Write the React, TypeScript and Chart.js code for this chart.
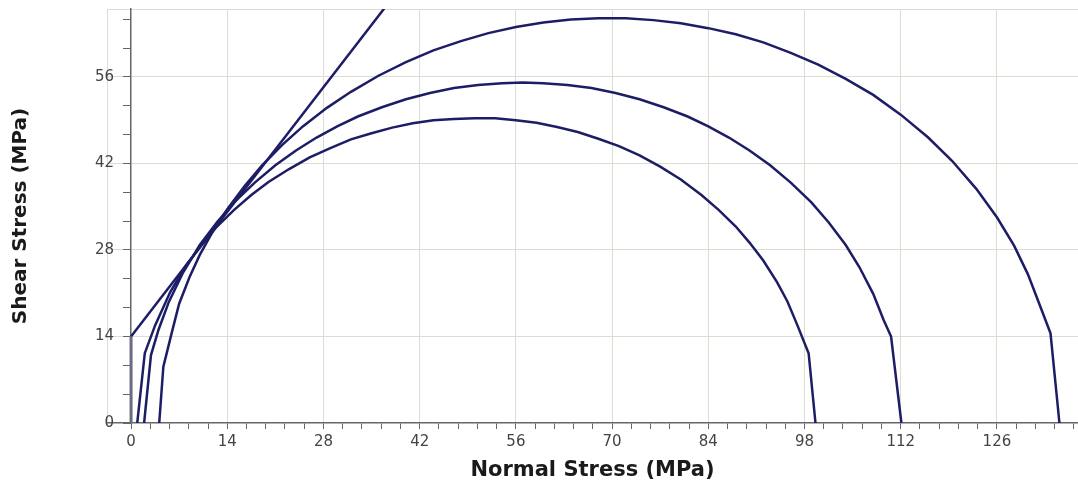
import { useEffect, useRef } from "react";
import { Chart, registerables } from "chart.js";
Chart.register(...registerables);

// ---- axis tick labels ----
const xTickLabels = ["0", "14", "28", "42", "56", "70", "84", "98", "112", "126"];
const yTickLabels = ["0", "14", "28", "42", "56"];
const xMinorDivisions = 5;
const yMinorDivisions = 3;
const xMin = -3.5;
const xMax = 137.8;
const yMin = 0;
const yMax = 67;

// ---- Mohr circle 1 (smallest) ----
const sigmaCircle1 = [0.9, 2.0, 3.5, 5.7, 8, 10, 12.5, 15, 17.5, 20, 23, 26, 29, 32, 35, 38, 41, 44, 47, 50, 53, 56, 59, 62, 65, 68, 71, 74, 77, 80, 83, 85.5, 88, 90, 92, 94, 95.5, 96.9, 98.6, 99.6];
const tauCircle1 = [0, 11.3, 15.8, 21.2, 25.5, 28.4, 31.8, 34.5, 36.9, 39.0, 41.1, 43.0, 44.5, 45.9, 46.9, 47.8, 48.5, 49.0, 49.2, 49.3, 49.3, 49.0, 48.6, 47.9, 47.1, 46.0, 44.8, 43.3, 41.5, 39.4, 36.9, 34.5, 31.8, 29.2, 26.3, 22.8, 19.7, 16.0, 11.3, 0];

// ---- Mohr circle 2 (middle) ----
const sigmaCircle2 = [1.9, 2.9, 4, 5.5, 7.5, 10, 12.5, 15, 18, 21, 24, 27, 30, 33, 36.5, 40, 43.5, 47, 50.5, 54, 57, 60, 63.5, 67, 70.5, 74, 77.5, 81, 84, 87, 90, 93, 96, 99, 101.5, 104, 106, 108, 109.5, 110.6, 112.1];
const tauCircle2 = [0, 11.0, 15.1, 19.6, 24.2, 28.8, 32.5, 35.7, 38.9, 41.7, 44.1, 46.2, 48.0, 49.6, 51.1, 52.4, 53.4, 54.2, 54.7, 55.0, 55.1, 55.0, 54.7, 54.2, 53.4, 52.4, 51.1, 49.6, 48.0, 46.2, 44.1, 41.7, 38.9, 35.7, 32.5, 28.8, 25.2, 20.9, 16.7, 14.0, 0];

// ---- Mohr circle 3 (largest) ----
const sigmaCircle3 = [4.1, 4.7, 5.9, 7, 8.5, 10, 12, 14, 16.5, 19, 22, 25, 28.5, 32, 36, 40, 44, 48, 52, 56, 60, 64, 68, 72, 76, 80, 84, 88, 92, 96, 100, 104, 108, 112, 116, 119.5, 123, 126, 128.5, 130.5, 132.3, 133.8, 135.1];
const tauCircle3 = [0, 9.1, 14.5, 19.3, 23.6, 27.2, 31.2, 34.6, 38.3, 41.6, 45.0, 48.0, 51.0, 53.6, 56.2, 58.4, 60.3, 61.8, 63.1, 64.1, 64.8, 65.3, 65.5, 65.5, 65.2, 64.7, 63.9, 62.9, 61.6, 59.9, 58.0, 55.7, 53.1, 49.9, 46.2, 42.4, 37.9, 33.3, 28.7, 24.1, 18.9, 14.5, 0];

// ---- failure envelope (cohesion stem + straight envelope) ----
const sigmaStem = [0, 0];
const tauStem = [0, 14];
const sigmaEnvelope = [0, 37.2];
const tauEnvelope = [14, 67.6];

const LINE_COLOR = "#1d1d66";
const STEM_COLOR = "#6a6a80";
const GRID_COLOR = "#dcdcd2";
const AXIS_COLOR = "#666666";
const TICK_TEXT = "#444444";
const FONT = "'DejaVu Sans', Verdana, sans-serif";
const Y_LABEL_GAP = "\u2007\u2002";

function zip(xs: number[], ys: number[]) {
  return xs.map((x, i) => ({ x, y: ys[i] }));
}

function tickValues(labels: string[], divisions: number, max: number) {
  const majors = labels.map(Number);
  const step = (majors[1] - majors[0]) / divisions;
  const vals: number[] = [];
  for (let i = 0; ; i++) {
    const v = majors[0] + i * step;
    if (v > max + 1e-9) break;
    vals.push(v);
  }
  return vals;
}

function labelFor(labels: string[], v: number) {
  const hit = labels.find((l) => Math.abs(Number(l) - v) < 1e-6);
  return hit === undefined ? "" : hit;
}

export default function App() {
  const ref = useRef<HTMLCanvasElement>(null);

  useEffect(() => {
    document.body.style.margin = "0";
    const canvas = ref.current!;
    const xTicks = [xMin, ...tickValues(xTickLabels, xMinorDivisions, xMax)];
    const yTicks = [...tickValues(yTickLabels, yMinorDivisions, yMax), yMax];

    const gridColorX = (ctx: any) => {
      const v = ctx.tick ? ctx.tick.value : NaN;
      if (Math.abs(v - xMin) < 1e-9) return GRID_COLOR;
      return labelFor(xTickLabels, v) !== "" && v !== 0 ? GRID_COLOR : "rgba(0,0,0,0)";
    };
    const tickColorX = (ctx: any) => {
      const v = ctx.tick ? ctx.tick.value : NaN;
      if (Math.abs(v - xMin) < 1e-9) return "rgba(0,0,0,0)";
      return AXIS_COLOR;
    };
    const gridColorY = (ctx: any) => {
      const v = ctx.tick ? ctx.tick.value : NaN;
      if (Math.abs(v - yMax) < 1e-9) return GRID_COLOR;
      return labelFor(yTickLabels, v) !== "" && v !== 0 ? GRID_COLOR : "rgba(0,0,0,0)";
    };
    const tickColorY = (ctx: any) => {
      const v = ctx.tick ? ctx.tick.value : NaN;
      if (Math.abs(v - yMax) < 1e-9) return "rgba(0,0,0,0)";
      return AXIS_COLOR;
    };

    const ds = (xs: number[], ys: number[], color: string, width: number) => ({
      data: zip(xs, ys),
      showLine: true,
      borderColor: color,
      backgroundColor: color,
      borderWidth: width,
      pointRadius: 0,
      pointHoverRadius: 0,
      tension: 0,
      fill: false,
      xAxisID: "x",
      yAxisID: "y",
    });

    const chart = new Chart(canvas, {
      type: "scatter",
      data: {
        datasets: [
          ds(sigmaStem, tauStem, STEM_COLOR, 3),
          ds(sigmaEnvelope, tauEnvelope, LINE_COLOR, 2.5),
          ds(sigmaCircle1, tauCircle1, LINE_COLOR, 2.5),
          ds(sigmaCircle2, tauCircle2, LINE_COLOR, 2.5),
          ds(sigmaCircle3, tauCircle3, LINE_COLOR, 2.5),
        ],
      },
      options: {
        responsive: false,
        animation: false,
        devicePixelRatio: 1,
        layout: { padding: { top: 9, right: 0, bottom: 0, left: 0 } },
        plugins: { legend: { display: false }, tooltip: { enabled: false } },
        scales: {
          x: {
            type: "linear",
            position: "bottom",
            min: xMin,
            max: xMax,
            afterBuildTicks: (s: any) => {
              s.ticks = xTicks.map((v) => ({ value: v }));
            },
            afterFit: (s: any) => {
              s.height = 62;
              s.paddingLeft = 0;
              s.paddingRight = 0;
            },
            ticks: {
              autoSkip: false,
              maxRotation: 0,
              minRotation: 0,
              padding: 4,
              color: TICK_TEXT,
              font: { family: FONT, size: 15 },
              callback: (v: any) => labelFor(xTickLabels, Number(v)),
            },
            grid: { color: gridColorX, tickColor: tickColorX, tickLength: 6, lineWidth: 1 },
            border: { display: true, color: AXIS_COLOR, width: 1.5 },
            title: {
              display: true,
              text: "Normal Stress (MPa)",
              color: "#1a1a1a",
              font: { family: FONT, size: 21, weight: "bold" },
              padding: { top: 0, bottom: 2 },
            },
          },
          y: {
            type: "linear",
            position: { x: 0 },
            min: yMin,
            max: yMax,
            afterBuildTicks: (s: any) => {
              s.ticks = yTicks.map((v) => ({ value: v }));
            },
            afterFit: (s: any) => {
              s.paddingTop = 0;
              s.paddingBottom = 0;
            },
            ticks: {
              autoSkip: false,
              padding: 8,
              color: TICK_TEXT,
              font: { family: FONT, size: 15 },
              callback: (v: any) => {
                const l = labelFor(yTickLabels, Number(v));
                return l === "" ? "" : l + Y_LABEL_GAP;
              },
            },
            grid: { color: gridColorY, tickColor: tickColorY, tickLength: 7, lineWidth: 1 },
            border: { display: true, color: AXIS_COLOR, width: 1.5 },
          },
          yTitle: {
            type: "linear",
            position: "left",
            min: yMin,
            max: yMax,
            ticks: { display: false },
            grid: { display: false, drawTicks: false },
            border: { display: false },
            afterFit: (s: any) => {
              s.width = 107;
              s.paddingTop = 0;
              s.paddingBottom = 0;
            },
            title: {
              display: true,
              text: "Shear Stress (MPa)",
              color: "#1a1a1a",
              font: { family: FONT, size: 20, weight: "bold" },
              padding: { top: 9, bottom: 0 },
            },
          },
        },
      } as any,
    });
    return () => chart.destroy();
  }, []);

  return (
    <div style={{ width: 1078, height: 485 }}>
      <canvas ref={ref} width={1078} height={485} style={{ display: "block" }} />
    </div>
  );
}
